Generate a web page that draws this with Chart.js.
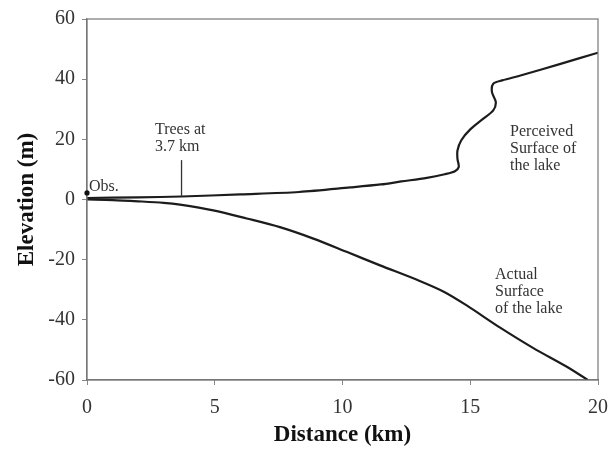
<!DOCTYPE html>
<html>
<head>
<meta charset="utf-8">
<script src="https://cdn.jsdelivr.net/npm/chart.js@4.4.1/dist/chart.umd.min.js"></script>
<style>
html,body{margin:0;padding:0;background:#fff;}
#wrap{width:615px;height:452px;position:relative;}
</style>
</head>
<body>
<div id="wrap"><canvas id="c" width="615" height="452"></canvas></div>
<script>
// Data
const perceivedX = [0, 2, 3.7, 6, 8.3, 10.3, 11.5, 12.3, 13.3, 14.0, 14.4, 14.55, 14.5, 14.5, 14.65, 15.0, 15.5, 15.9, 16.0, 15.85, 15.9, 16.25, 17.0, 18.5, 20];
const perceivedY = [0.5, 0.7, 1.0, 1.7, 2.5, 4.0, 5.0, 6.0, 7.2, 8.4, 9.4, 10.8, 13.5, 16.3, 19.7, 23.3, 26.8, 29.6, 32.4, 35.7, 38.5, 39.6, 41.3, 45.0, 48.8];
const actualX = [0, 1, 2, 3, 3.64, 4.94, 6.25, 7.55, 8.86, 10.16, 11.47, 13.0, 14.0, 14.86, 16.17, 17.47, 18.78, 19.6];
const actualY = [0, -0.2, -0.6, -1.1, -1.7, -3.6, -6.3, -9.2, -13.0, -17.4, -21.9, -27.0, -30.8, -35.2, -42.6, -49.4, -55.6, -60];
const xTicks = [0, 5, 10, 15, 20];
const yTicks = [-60, -40, -20, 0, 20, 40, 60];
const obsPoint = {x: 0, y: 2.2};
const treesAt = {x: 3.7, y0: 1.0, y1: 13.1};
const labels = [
  {x: 2.66, y: 23.1, lines: ['Trees at', '3.7 km']},
  {x: 0.08, y: 4.3, lines: ['Obs.']},
  {x: 16.56, y: 22.4, lines: ['Perceived', 'Surface of', 'the lake']},
  {x: 15.97, y: -25.1, lines: ['Actual', 'Surface', 'of the lake']}
];

const toPts = (xs, ys) => xs.map((x, i) => ({x: x, y: ys[i]}));

const serif = '"Liberation Serif", "Times New Roman", serif';

const annot = {
  id: 'annot',
  afterDraw(chart) {
    const ctx = chart.ctx, a = chart.chartArea;
    const xs = chart.scales.x, ys = chart.scales.y;
    ctx.save();
    ctx.strokeStyle = '#777';
    ctx.lineWidth = 1.2;
    ctx.strokeRect(a.left, a.top, a.right - a.left, a.bottom - a.top);
    ctx.strokeStyle = '#333';
    ctx.lineWidth = 1.3;
    ctx.beginPath();
    ctx.moveTo(xs.getPixelForValue(treesAt.x), ys.getPixelForValue(treesAt.y0));
    ctx.lineTo(xs.getPixelForValue(treesAt.x), ys.getPixelForValue(treesAt.y1));
    ctx.stroke();
    ctx.fillStyle = '#111';
    ctx.beginPath();
    ctx.arc(xs.getPixelForValue(obsPoint.x), ys.getPixelForValue(obsPoint.y), 2.6, 0, Math.PI * 2);
    ctx.fill();
    ctx.fillStyle = '#333';
    ctx.font = '16px ' + serif;
    ctx.textAlign = 'left';
    ctx.textBaseline = 'middle';
    labels.forEach(l => {
      const px = xs.getPixelForValue(l.x), py = ys.getPixelForValue(l.y);
      l.lines.forEach((t, i) => ctx.fillText(t, px, py + i * 16.7));
    });
    ctx.restore();
  }
};

new Chart(document.getElementById('c'), {
  type: 'scatter',
  data: {
    datasets: [
      {data: toPts(perceivedX, perceivedY), showLine: true, borderColor: '#1c1c1c', borderWidth: 2.2, pointRadius: 0, tension: 0.3, fill: false},
      {data: toPts(actualX, actualY), showLine: true, borderColor: '#1c1c1c', borderWidth: 2.2, pointRadius: 0, tension: 0.3, fill: false}
    ]
  },
  options: {
    responsive: false,
    animation: false,
    devicePixelRatio: 1,
    layout: {padding: {top: 19, right: 17, left: 0, bottom: 0}},
    plugins: {legend: {display: false}, tooltip: {enabled: false}},
    scales: {
      x: {
        type: 'linear', min: 0, max: 20,
        afterBuildTicks: s => { s.ticks = xTicks.map(v => ({value: v})); },
        afterFit: s => { s.height = 72; s.paddingLeft = 0; s.paddingRight = 0; },
        border: {color: '#777', width: 1.2},
        grid: {drawOnChartArea: false, drawTicks: true, tickLength: 5, color: '#888'},
        ticks: {color: '#333', font: {family: serif, size: 20}, padding: 11, maxRotation: 0, minRotation: 0},
        title: {display: true, text: 'Distance (km)', color: '#111', font: {family: serif, size: 23, weight: 'bold'}, padding: {bottom: 3, top: 0}}
      },
      y: {
        type: 'linear', min: -60, max: 60,
        afterBuildTicks: s => { s.ticks = yTicks.map(v => ({value: v})); },
        afterFit: s => { s.width = 87; s.paddingTop = 0; s.paddingBottom = 0; },
        border: {color: '#777', width: 1.2},
        grid: {drawOnChartArea: false, drawTicks: true, tickLength: 5, color: '#888'},
        ticks: {color: '#333', font: {family: serif, size: 20}, padding: 7},
        title: {display: true, text: 'Elevation (m)', color: '#111', font: {family: serif, size: 23, weight: 'bold'}, padding: {top: 13, bottom: 0}}
      }
    }
  },
  plugins: [annot]
});
</script>
</body>
</html>
